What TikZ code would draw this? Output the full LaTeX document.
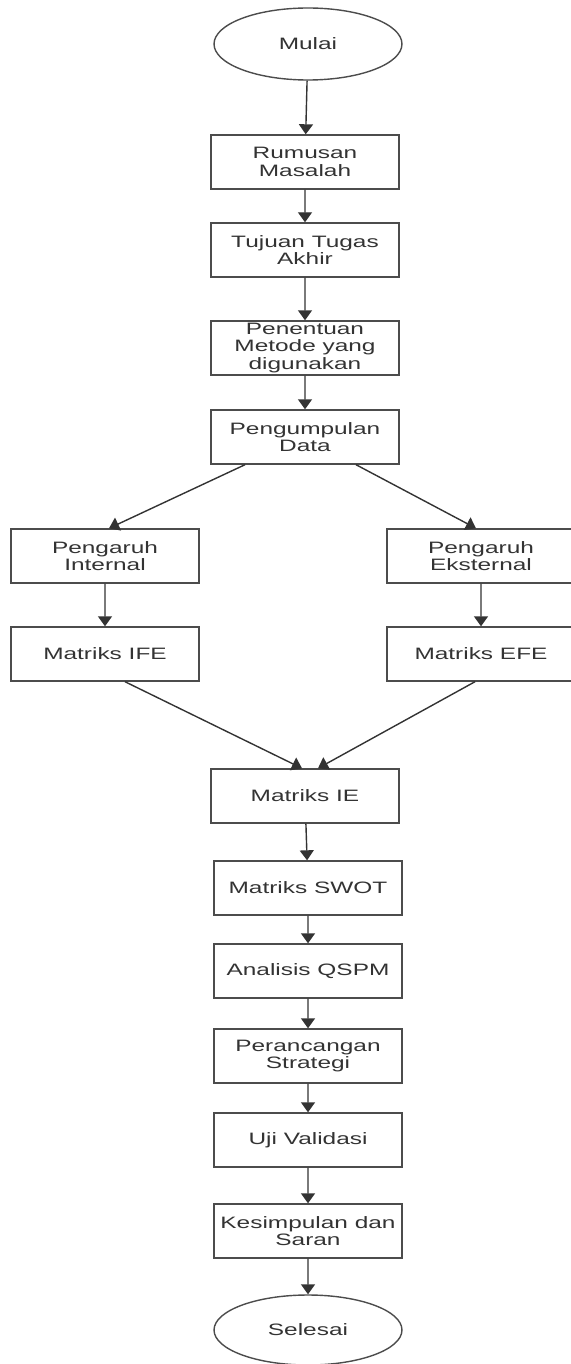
\documentclass[tikz,border=0pt]{standalone}
\usepackage{fontspec}
\setmainfont{Liberation Sans}
\usetikzlibrary{calc,arrows.meta,shapes.geometric}

\begin{document}
\begin{tikzpicture}[x=1pt,y=1pt,
        box/.style={draw=black!70,line width=1.4pt,minimum width=127pt,minimum height=54pt,inner sep=0pt,
            align=center,text=black!80,font=\fontsize{16.5}{17.5}\selectfont,xscale=1.48,transform shape},
        term/.style={box,ellipse,minimum height=72pt},
        arr/.style={line width=1.4pt,black!80,-{Triangle[width=14pt,length=10pt]}}]
            \useasboundingbox (0,0) rectangle (570,-1364);

            \node[term] (mulai) at (308,-44) {Mulai};
            \node[box] (rumusan) at (305,-162) {Rumusan\\Masalah};
            \node[box] (tujuan) at (305,-250) {Tujuan Tugas\\Akhir};
            \node[box] (penentuan) at (305,-348) {Penentuan\\Metode yang\\digunakan};
            \node[box] (pengumpulan) at (305,-437) {Pengumpulan\\Data};
            \node[box] (internal) at (105,-556) {Pengaruh\\Internal};
            \node[box] (eksternal) at (481,-556) {Pengaruh\\Eksternal};
            \node[box] (ife) at (105,-654) {Matriks IFE};
            \node[box] (efe) at (481,-654) {Matriks EFE};
            \node[box] (ie) at (305,-796) {Matriks IE};
            \node[box] (swot) at (308,-888) {Matriks SWOT};
            \node[box] (qspm) at (308,-971) {Analisis QSPM};
            \node[box] (perancangan) at (308,-1056) {Perancangan\\Strategi};
            \node[box] (uji) at (308,-1140) {Uji Validasi};
            \node[box] (kesimpulan) at (308,-1231) {Kesimpulan dan\\Saran};
            \node[term,minimum height=70pt] (selesai) at (308,-1330) {Selesai};

            \foreach \a/\b in {mulai/rumusan,rumusan/tujuan,tujuan/penentuan,penentuan/pengumpulan,
                internal/ife,eksternal/efe,ie/swot,swot/qspm,qspm/perancangan,perancangan/uji,
                uji/kesimpulan,kesimpulan/selesai}
                \draw[arr] (\a) -- (\b);

            \draw[arr] ($(pengumpulan.south)+(-60,0)$) -- ($(internal.north)+(4,0)$);
            \draw[arr] ($(pengumpulan.south)+(51,0)$) -- ($(eksternal.north)+(-5,0)$);
            \draw[arr] ($(ife.south)+(20,0)$) -- ($(ie.north)+(-3,0)$);
            \draw[arr] ($(efe.south)+(-6,0)$) -- ($(ie.north)+(13,0)$);
        \end{tikzpicture}
\end{document}
